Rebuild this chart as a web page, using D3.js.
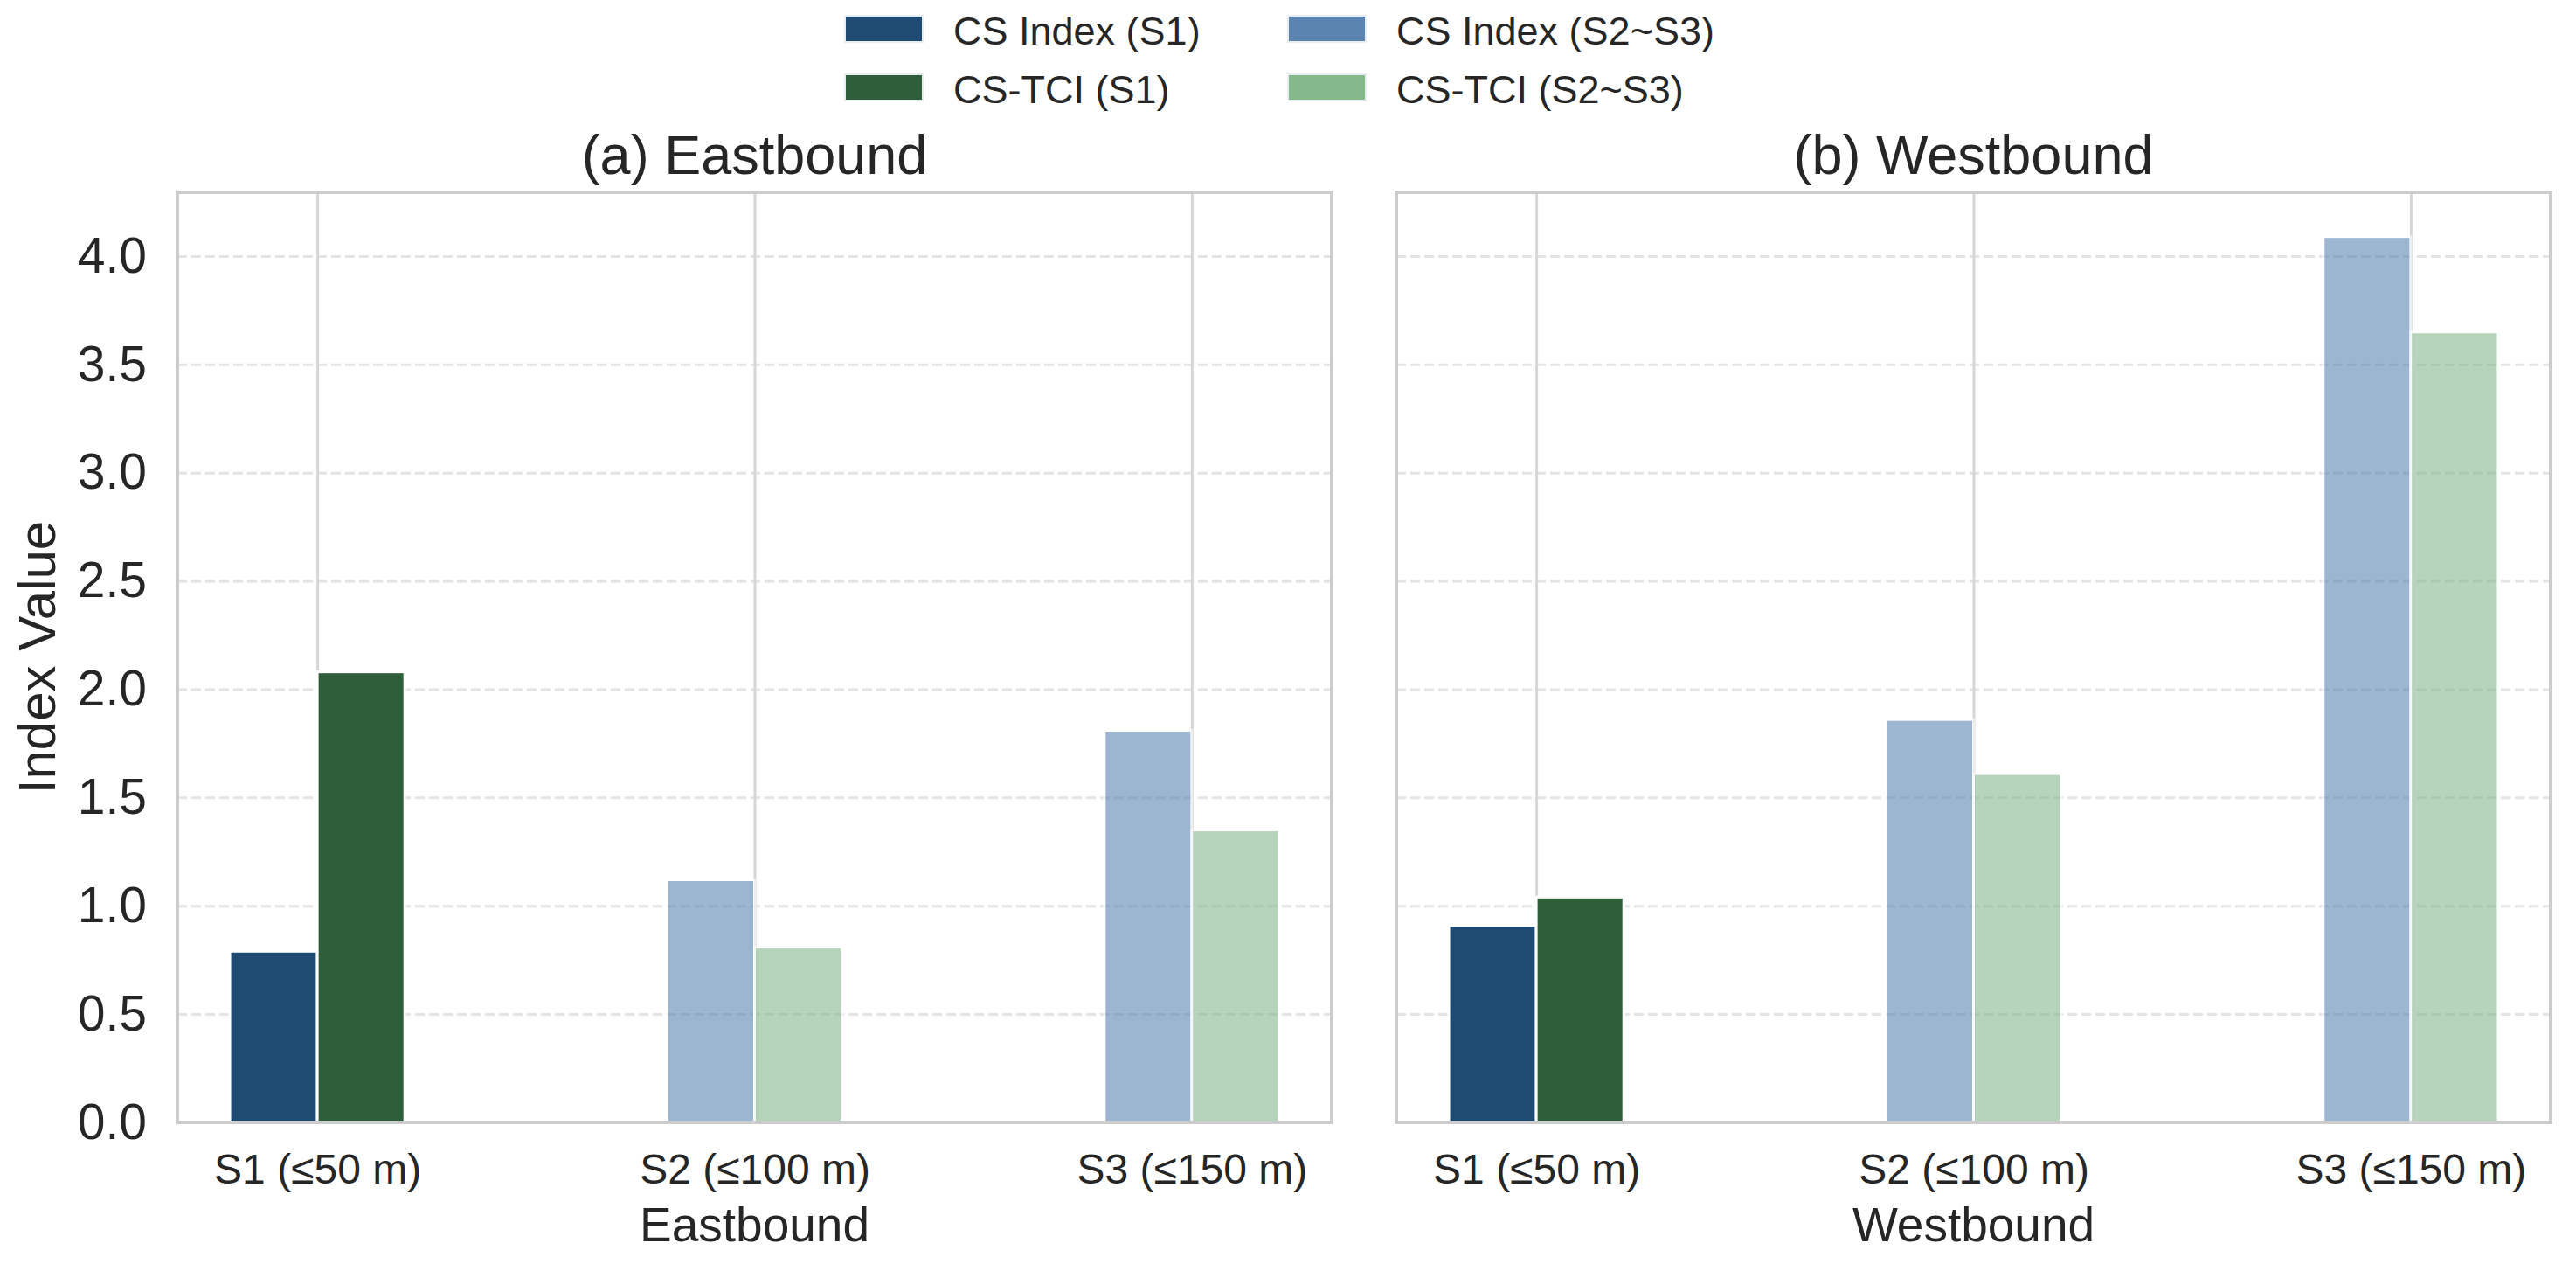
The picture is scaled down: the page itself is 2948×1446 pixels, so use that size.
<!DOCTYPE html>
<html>
<head>
<meta charset="utf-8">
<script src="https://cdn.jsdelivr.net/npm/d3@7"></script>
<style>
  body { margin: 0; background: #ffffff; }
  text { font-family: "Liberation Sans", Arial, sans-serif; fill: #262626; }
</style>
</head>
<body>
<div id="chart-area"></div>
<script>
// data
var categories = ["S1 (\u226450 m)", "S2 (\u2264100 m)", "S3 (\u2264150 m)"];
var directions = ["Eastbound", "Westbound"];
var titles = ["(a) Eastbound", "(b) Westbound"];
var csIndexEast = [0.79, 1.12, 1.81];
var tciEast = [2.08, 0.81, 1.35];
var csIndexWest = [0.91, 1.86, 4.09];
var tciWest = [1.04, 1.61, 3.65];
var yTicks = [0, 0.5, 1, 1.5, 2, 2.5, 3, 3.5, 4];
var legendLabels = ["CS Index (S1)", "CS-TCI (S1)", "CS Index (S2~S3)", "CS-TCI (S2~S3)"];

var colS1 = {cs: "#1f4a71", tci: "#2f5f3a"};
var colS23 = {cs: "#5b84b1", tci: "#84b98c"};
var legendColors = [colS1.cs, colS1.tci, colS23.cs, colS23.tci];

var W = 2948, H = 1446;
var plotTop = 220, plotBottom = 1284;
var panels = [{left: 203, right: 1524}, {left: 1598, right: 2919}];

var svg = d3.select("#chart-area").append("svg")
  .attr("width", W)
  .attr("height", H);

svg.append("rect").attr("width", W).attr("height", H).attr("fill", "#ffffff");

var allVals = csIndexEast.concat(tciEast, csIndexWest, tciWest);
var y = d3.scaleLinear()
  .domain([0, d3.max(allVals) * 1.05])
  .range([plotBottom - plotTop, 0]);

var panelData = [
  {cs: csIndexEast, tci: tciEast},
  {cs: csIndexWest, tci: tciWest}
];

panels.forEach(function(p, pi) {
  var w = p.right - p.left;
  var h = plotBottom - plotTop;
  var g = svg.append("g").attr("transform", "translate(" + p.left + "," + plotTop + ")");

  var x = d3.scaleLinear().domain([-0.32, 2.32]).range([0, w]);
  var barW = x(0.2) - x(0);

  // horizontal dashed grid
  var yGrid = g.append("g")
    .call(d3.axisLeft(y).tickValues(yTicks).tickSize(-w).tickFormat(""));
  yGrid.select(".domain").remove();
  yGrid.selectAll("line")
    .attr("stroke", "#e4e4e4")
    .attr("stroke-width", 3)
    .attr("stroke-dasharray", "11,5");

  // vertical grid at categories
  var xGrid = g.append("g")
    .attr("transform", "translate(0," + h + ")")
    .call(d3.axisBottom(x).tickValues([0, 1, 2]).tickSize(-h).tickFormat(""));
  xGrid.select(".domain").remove();
  xGrid.selectAll("line")
    .attr("stroke", "#d6d6d6")
    .attr("stroke-width", 3);

  var rows = categories.map(function(c, i) {
    return {i: i, cs: panelData[pi].cs[i], tci: panelData[pi].tci[i]};
  });

  // CS Index bars
  g.selectAll("rect.cs").data(rows).enter().append("rect")
    .attr("class", "cs")
    .attr("x", function(d) { return x(d.i - 0.2); })
    .attr("y", function(d) { return y(d.cs); })
    .attr("width", barW)
    .attr("height", function(d) { return h - y(d.cs); })
    .attr("fill", function(d) { return d.i === 0 ? colS1.cs : colS23.cs; })
    .attr("opacity", function(d) { return d.i === 0 ? 1 : 0.6; })
    .attr("stroke", "#ffffff")
    .attr("stroke-width", 3);

  // CS-TCI bars
  g.selectAll("rect.tci").data(rows).enter().append("rect")
    .attr("class", "tci")
    .attr("x", function(d) { return x(d.i); })
    .attr("y", function(d) { return y(d.tci); })
    .attr("width", barW)
    .attr("height", function(d) { return h - y(d.tci); })
    .attr("fill", function(d) { return d.i === 0 ? colS1.tci : colS23.tci; })
    .attr("opacity", function(d) { return d.i === 0 ? 1 : 0.6; })
    .attr("stroke", "#ffffff")
    .attr("stroke-width", 3);

  // frame
  g.append("rect")
    .attr("width", w)
    .attr("height", h)
    .attr("fill", "none")
    .attr("stroke", "#cccccc")
    .attr("stroke-width", 4);

  // x tick labels
  var xAxis = g.append("g")
    .attr("transform", "translate(0," + h + ")")
    .call(d3.axisBottom(x).tickValues([0, 1, 2]).tickSize(0).tickPadding(36)
      .tickFormat(function(d) { return categories[d]; }));
  xAxis.select(".domain").remove();
  xAxis.selectAll("text")
    .attr("font-size", "48px")
    .attr("font-family", "Liberation Sans, Arial, sans-serif")
    .style("fill", "#262626");

  // y tick labels on the left panel only
  if (pi === 0) {
    var yAxis = g.append("g")
      .call(d3.axisLeft(y).tickValues(yTicks).tickSize(0).tickPadding(35)
        .tickFormat(d3.format(".1f")));
    yAxis.select(".domain").remove();
    yAxis.selectAll("text")
      .attr("font-size", "57px")
      .attr("font-family", "Liberation Sans, Arial, sans-serif")
      .style("fill", "#262626");

    g.append("text")
      .attr("transform", "rotate(-90)")
      .attr("x", -h / 2)
      .attr("y", 63 - p.left)
      .attr("text-anchor", "middle")
      .attr("font-size", "60px")
      .text("Index Value");
  }

  // title and x label
  g.append("text")
    .attr("x", w / 2)
    .attr("y", 199 - plotTop)
    .attr("text-anchor", "middle")
    .attr("font-size", "63px")
    .text(titles[pi]);

  g.append("text")
    .attr("x", w / 2)
    .attr("y", 1420 - plotTop)
    .attr("text-anchor", "middle")
    .attr("font-size", "55px")
    .text(directions[pi]);
});

// legend, two columns
var legendX = [967, 1474];
var legendY = [33, 100];
var leg = svg.append("g");
legendLabels.forEach(function(lab, i) {
  var col = Math.floor(i / 2), row = i % 2;
  leg.append("rect")
    .attr("x", legendX[col])
    .attr("y", legendY[row] - 15)
    .attr("width", 89)
    .attr("height", 30)
    .attr("fill", legendColors[i])
    .attr("stroke", "#e8edf2")
    .attr("stroke-width", 2);
  leg.append("text")
    .attr("x", legendX[col] + 124)
    .attr("y", legendY[row] + 18)
    .attr("font-size", "45px")
    .text(lab);
});
</script>
</body>
</html>
